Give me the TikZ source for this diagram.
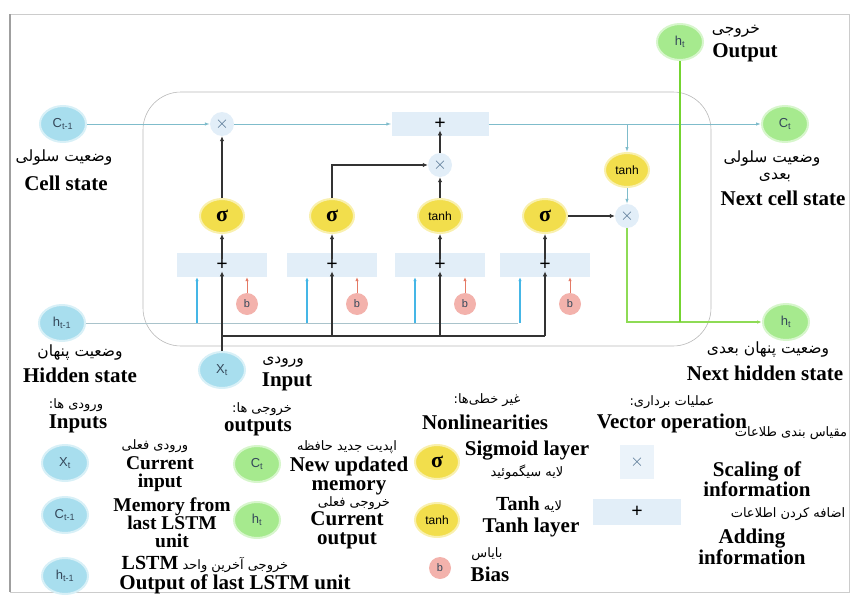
\documentclass[tikz,border=0pt]{standalone}
\usepackage{fontspec}
\setmainfont{Liberation Serif}
\newfontfamily\fafont[Script=Arabic]{DejaVu Sans}
\newfontfamily\lsans{Liberation Sans}
\usetikzlibrary{arrows.meta,shapes.geometric}
\TeXXeTstate=1
\definecolor{inblue}{HTML}{A8DEEE}
\definecolor{outgreen}{HTML}{A6EA8E}
\definecolor{actyel}{HTML}{F2DE4C}
\definecolor{biasred}{HTML}{F3B2AC}
\definecolor{opblue}{HTML}{E2EEF8}
\definecolor{cline}{HTML}{7FBCCB}
\definecolor{hgrey}{HTML}{A9C3CB}
\definecolor{brtblue}{HTML}{45B6E6}
\definecolor{redarr}{HTML}{E47A66}
\definecolor{gthin}{HTML}{8EDB55}
\definecolor{gthick}{HTML}{74D430}
\definecolor{xcol}{HTML}{4E6F8E}
\definecolor{txtc}{HTML}{35485A}
\newcommand{\sig}{{\fontsize{22}{22}\selectfont\bfseries σ}}
\newcommand{\tnh}{{\lsans\fontsize{12}{12}\selectfont tanh}}
\newcommand{\prs}[1]{\beginR #1\endR}
\newcommand{\ltr}[1]{\beginL{\rmfamily\bfseries\fontsize{20}{20}\selectfont #1}\endL}

\begin{document}
\begin{tikzpicture}[
  x=1pt, y=-1pt,
  en/.style={font=\fontsize{21}{19}\selectfont\bfseries, align=center, inner sep=0pt},
  ensm/.style={en, font=\fontsize{19.5}{18}\selectfont\bfseries},
  fa/.style={font=\fafont\fontsize{13}{15}\selectfont, inner sep=0pt},
  fabig/.style={font=\fafont\fontsize{15.5}{17}\selectfont, inner sep=0pt},
  st/.style={ellipse, minimum width=46pt, minimum height=36pt, inner sep=0pt, line width=2pt, font=\lsans\fontsize{13}{13}\selectfont, text=txtc},
  stin/.style={st, fill=inblue, draw=inblue!45},
  stout/.style={st, fill=outgreen, draw=outgreen!45},
  act/.style={ellipse, fill=actyel, draw=actyel!45, line width=2pt, minimum width=44pt, minimum height=34pt, inner sep=0pt},
  bias/.style={circle, fill=biasred, minimum size=22pt, inner sep=0pt, font=\lsans\fontsize{11}{11}\selectfont, text=txtc},
  opbox/.style={rectangle, fill=opblue, minimum width=90pt, minimum height=24pt, inner sep=0pt},
  plus/.style={inner sep=0.5pt, font=\fontsize{20}{20}\selectfont\bfseries},
  mul/.style={circle, fill=opblue, minimum size=24pt, inner sep=0pt, text=xcol, font=\fontsize{16}{16}\selectfont},
  karr/.style={-{Latex[length=5pt,width=4.5pt]}, line width=1.6pt, draw=black!80},
  kline/.style={line width=1.6pt, draw=black!80},
  carr/.style={-{Latex[length=5pt,width=3.5pt]}, line width=0.9pt, draw=cline},
  hline/.style={line width=0.9pt, draw=hgrey},
  barr/.style={-{Latex[length=4pt,width=3.5pt]}, line width=1.5pt, draw=brtblue},
  rarr/.style={-{Latex[length=4pt,width=3.5pt]}, line width=0.9pt, draw=redarr},
  garr/.style={-{Latex[length=5pt,width=3.5pt]}, line width=1.2pt, draw=gthin},
  gline/.style={line width=2.2pt, draw=gthick}
]
\useasboundingbox (0,0) rectangle (852,597);
\def\yc{124}\def\ys{216}\def\yp{265}\def\yb{336}

% ================= FRAME =================
\draw[gray!40, line width=0.6pt] (10,14) rectangle (849,592);
\draw[gray!75, line width=1.2pt] (10,14) -- (10,592);
\draw[gray!55, line width=0.6pt, rounded corners=38pt] (143,92) rectangle (711,346);

% ================= STATES =================
\node[stin]  (cprev) at (63,\yc) {C\textsubscript{t-1}};
\node[fabig] (cprev-fa) at (64,158) {\prs{وضعیت سلولی}};
\node[en]    (cprev-en) at (66,183) {Cell state};
\node[stin]  (hprev) at (62,323) {h\textsubscript{t-1}};
\node[fabig] (hprev-fa) at (80,353) {\prs{وضعیت پنهان}};
\node[en]    (hprev-en) at (80,375) {Hidden state};
\node[stin]  (xt) at (222,370) {X\textsubscript{t}};
\node[fabig] (xt-fa) at (283,362) {\prs{ورودی}};
\node[en]    (xt-en) at (287,382) {Input};
\node[stout] (hout) at (680,42) {h\textsubscript{t}};
\node[fabig] (hout-fa) at (736,31) {\prs{خروجی}};
\node[en]    (hout-en) at (745,53) {Output};
\node[stout] (cnext) at (785,\yc) {C\textsubscript{t}};
\node[fabig] (cnext-fa) at (772,159) {\prs{وضعیت سلولی}};
\node[fabig] (cnext-fa2) at (775,177) {\prs{بعدی}};
\node[en]    (cnext-en) at (783,198) {Next cell state};
\node[stout] (hnext) at (786,322) {h\textsubscript{t}};
\node[fabig] (hnext-fa) at (768,350) {\prs{وضعیت پنهان بعدی}};
\node[en]    (hnext-en) at (765,373) {Next hidden state};

% ================= CELL =================
\node[mul] (fx) at (222,\yc) {$\times$};
\node[opbox, minimum width=97pt] (cadd) at (440,\yc) {};
\node[plus] (cp) at (440,\yc) {+};
\node[mul] (ix) at (440,165) {$\times$};
\node[act] (tc) at (627,170) {\tnh};
\node[mul] (ox) at (627,\ys) {$\times$};

\draw[hline] (hprev) -- (518,323) coordinate (hend);
\foreach \gx/\gt/\n in {222/{\sig}/1, 332/{\sig}/2, 440/{\tnh}/3, 545/{\sig}/4}{
  \node[opbox] (g\n) at (\gx,\yp) {};
  \node[plus] (p\n) at (\gx,\yp) {+};
  \node[act] (s\n) at (\gx,\ys) {\gt};
  \node[bias] (b\n) at (\gx+25,304) {b};
  \coordinate (u\n) at ([xshift=-25pt]g\n.south);
  \draw[karr] (p\n) -- (s\n);
  \draw[rarr] (b\n) -- (b\n |- g\n.south);
  \draw[barr] (u\n |- hprev) -- (u\n);
}

\draw[carr] (cprev) -- (fx);
\draw[carr] (fx) -- (cadd);
\draw[carr] (cadd) -- (cnext);
\draw[carr] (tc |- cadd) -- (tc);
\draw[carr] (tc) -- (ox);
\draw[karr] (s1) -- (fx);
\draw[karr] (s2) |- (ix);
\draw[karr] (s3) -- (ix);
\draw[karr] (ix) -- (cp);
\draw[karr] (s4) -- (ox);

\coordinate (bus) at (222,\yb);
\draw[karr] (xt) -- (p1);
\draw[kline] (bus) -- (bus -| p4);
\foreach \n in {2,3,4}{\draw[karr] (bus -| p\n) -- (p\n);}

\draw[garr] (ox) |- (hnext);
\draw[gline] (hout) -- (hout |- hnext);

% ================= LEGEND =================
\node[fa] (lin-fa) at (76,405) {\prs{ورودی ها:}};
\node[en] (lin-en) at (78,424) {Inputs};
\node[stin] (lx) at (65,463) {X\textsubscript{t}};
\node[fa] (lx-fa) at (155,446) {\prs{ورودی فعلی}};
\node[ensm] (lx-en) at (160,474) {Current\\input};
\node[stin] (lc) at (65,515) {C\textsubscript{t-1}};
\node[ensm] (lc-en) at (172,523) {Memory from\\last LSTM\\unit};
\node[stin] (lh) at (65,576) {h\textsubscript{t-1}};
\node[fa] (lh-fa) at (205,564) {\prs{خروجی آخرین واحد \ltr{LSTM}}};
\node[en] (lh-en) at (235,584) {Output of last LSTM unit};

\node[fa] (lout-fa) at (262,409) {\prs{خروجی ها:}};
\node[en] (lout-en) at (258,428) {outputs};
\node[stout] (lct) at (257,464) {C\textsubscript{t}};
\node[fa] (lct-fa) at (347,447) {\prs{اپدیت جدید حافظه}};
\node[en] (lct-en) at (349,476) {New updated\\memory};
\node[stout] (lht) at (257,520) {h\textsubscript{t}};
\node[fa] (lht-fa) at (354,503) {\prs{خروجی فعلی}};
\node[en] (lht-en) at (347,530) {Current\\output};

\node[fa] (lnl-fa) at (487,400) {\prs{غیر خطی‌ها:}};
\node[en] (lnl-en) at (485,422) {Nonlinearities};
\node[act] (lsig) at (437,462) {\sig};
\node[en] (lsig-en) at (527,451) {Sigmoid layer};
\node[fa] (lsig-fa) at (527,472) {\prs{لایه سیگموئید}};
\node[act] (ltanh) at (437,520) {\tnh};
\node[fa] (ltanh-fa) at (529,505) {\prs{لایه \ltr{Tanh}}};
\node[en] (ltanh-en) at (531,527) {Tanh layer};
\node[bias] (lb) at (440,568) {b};
\node[fa] (lb-fa) at (487,554) {\prs{بایاس}};
\node[en] (lb-en) at (490,574) {Bias};

\node[fa] (lvec-fa) at (672,402) {\prs{عملیات برداری:}};
\node[en] (lvec-en) at (672,423) {Vector operation};
\node[mul, rectangle, minimum size=34pt, fill=opblue!70] (lgx) at (637,462) {$\times$};
\node[fa] (lgx-fa) at (791,433) {\prs{مقیاس بندی طلاعات}};
\node[en] (lgx-en) at (757,479) {Scaling of\\information};
\node[opbox, minimum width=88pt, minimum height=26pt] (lgop) at (637,512) {};
\node[plus] (lgp) at (lgop) {+};
\node[fa] (lgop-fa) at (788,514) {\prs{اضافه کردن اطلاعات}};
\node[en] (lgop-en) at (752,547) {Adding\\information};

\end{tikzpicture}
\end{document}
